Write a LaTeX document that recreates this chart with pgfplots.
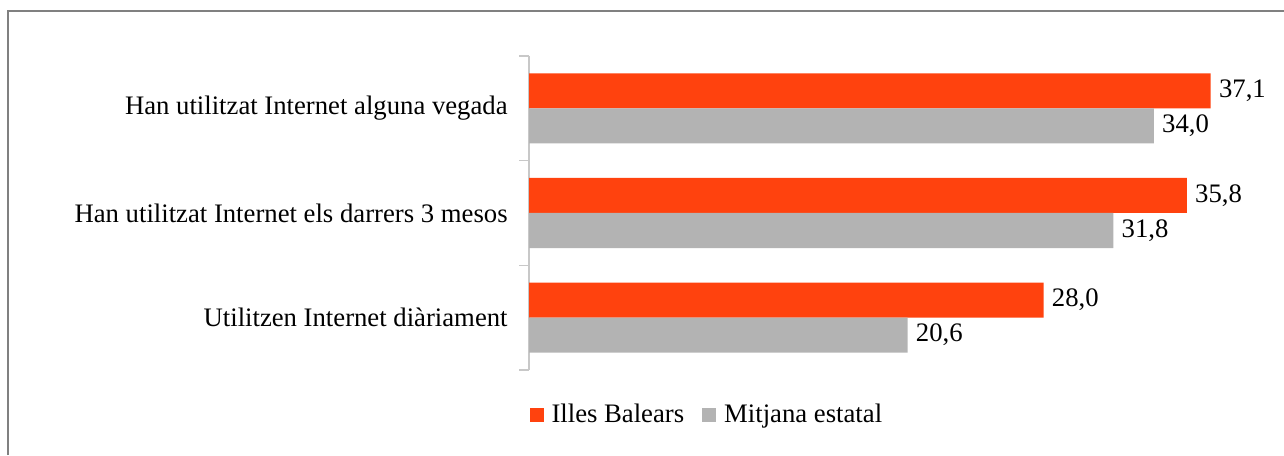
\documentclass[border=0pt]{standalone}
\usepackage{fontspec}
\setmainfont{Liberation Serif}
\usepackage{pgfplots}
\pgfplotsset{compat=1.18}
\definecolor{Orange}{HTML}{FF420E}
\definecolor{Grey}{HTML}{B3B3B3}
\definecolor{Frame}{HTML}{808080}
\definecolor{AxisGrey}{HTML}{C8C8C8}
\newcommand{\chartfont}{\fontsize{13.35pt}{16pt}\selectfont}
\begin{document}
\chartfont
\begin{tikzpicture}
  % 1px = 0.5pt, picture 1284x455 px
  \path[use as bounding box] (0,0) rectangle (642pt,227.5pt);
  \draw[Frame,line width=0.8pt] (4pt,0) -- (4pt,222pt) -- (642pt,222pt);
  \begin{axis}[
    at={(264.5pt,42.5pt)},
    anchor=south west,
    scale only axis,
    width=367.5pt,
    height=157pt,
    xmin=0, xmax=40,
    ymin=-0.5, ymax=2.5,
    axis x line=none,
    axis y line=left,
    y axis line style={-,draw=AxisGrey,line width=0.8pt},
    ytick={0,1,2},
    yticklabels={Utilitzen Internet diàriament,
      Han utilitzat Internet els darrers 3 mesos,
      Han utilitzat Internet alguna vegada},
    major tick length=0pt,
    minor ytick={-0.5,0.5,1.5,2.5},
    minor tick length=5pt,
    tick align=outside,
    minor tick style={draw=AxisGrey,line width=0.8pt},
    yticklabel style={font=\chartfont,inner sep=0pt,xshift=-10.5pt},
    xbar,
    bar width=17.5pt,
    clip=false,
    nodes near coords={\pgfmathprintnumber[fixed,zerofill,precision=1,use comma,assume math mode=true]{\pgfplotspointmeta}},
    nodes near coords style={font=\chartfont,anchor=west,inner sep=0pt,xshift=4pt,text=black},
    legend columns=2,
    legend style={draw=none,fill=none,at={(-0.008,-0.143)},anchor=west,
      font=\chartfont,
      nodes={inner sep=0pt},
      /tikz/every odd column/.append style={column sep=4pt},
      /tikz/every even column/.append style={column sep=9pt}},
    legend image code/.code={\fill[#1] (0pt,-3.5pt) rectangle (7pt,3.5pt);},
  ]
    \addplot[fill=Orange,draw=none,bar shift=8.75pt] coordinates {(28.0,0) (35.8,1) (37.1,2)};
    \addplot[fill=Grey,draw=none,bar shift=-8.75pt] coordinates {(20.6,0) (31.8,1) (34.0,2)};
    \legend{Illes Balears,Mitjana estatal}
  \end{axis}
\end{tikzpicture}
\end{document}
